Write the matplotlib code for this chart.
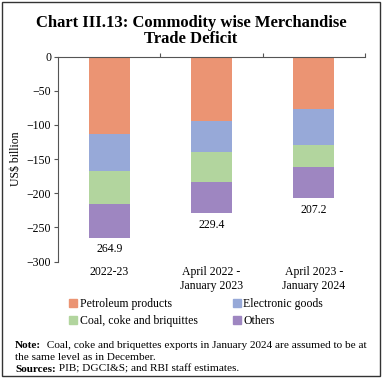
import matplotlib
matplotlib.use("Agg")
import matplotlib.pyplot as plt
from matplotlib.patches import Rectangle, Patch
import numpy as np

# data (US$ billion, deficits shown as negative)
categories = ["2022-23", "April 2022 -\nJanuary 2023", "April 2023 -\nJanuary 2024"]
petroleum = [112.8, 94.0, 76.6]
electronic = [54.4, 45.0, 52.6]
coal = [48.3, 44.0, 31.7]
others = [49.4, 46.4, 46.3]
totals = [264.9, 229.4, 207.2]
series_names = ["Petroleum products", "Electronic goods",
                "Coal, coke and briquittes", "Others"]
colors = ["#EB9473", "#97A9D8", "#B2D59E", "#9E86C1"]

plt.rcParams["font.family"] = ["Liberation Serif", "DejaVu Serif"]

W = H = 382
fig = plt.figure(figsize=(3.82, 3.82), dpi=100)
ax = fig.add_axes([0.152, 0.315, 0.803, 0.537])

x = np.arange(len(categories))
bottom = np.zeros(len(categories))
for vals, col, name in zip([petroleum, electronic, coal, others], colors, series_names):
    v = -np.array(vals)
    ax.bar(x, v, width=0.4, bottom=bottom, color=col, label=name, zorder=2)
    bottom = bottom + v

for xi, t in zip(x, totals):
    ax.text(xi, -t - 8, f"{t:.1f}", ha="center", va="top", fontsize=8.5)

# category labels below the plot
for xi, c in zip(x, categories):
    ax.text(xi, -306, c, ha="center", va="top", fontsize=8.5, linespacing=1.2)

ax.set_xlim(-0.5, 2.5)
ax.set_ylim(-300, 0)
ax.set_yticks(np.arange(-300, 1, 50))
ax.tick_params(axis="y", labelsize=8.5, length=3, color="#555555", pad=2)
ax.xaxis.tick_top()
ax.set_xticks([0.5, 1.5, 2.5])
ax.set_xticklabels([])
ax.tick_params(axis="x", length=3, color="#555555")
for s in ["bottom", "right"]:
    ax.spines[s].set_visible(False)
for s in ["top", "left"]:
    ax.spines[s].set_color("#555555")
    ax.spines[s].set_linewidth(0.8)
ax.set_ylabel("US$ billion", fontsize=8.5, labelpad=3)

# legend, row-wise order like the original
order = [0, 2, 1, 3]
handles = [Patch(color=colors[i], label=series_names[i]) for i in order]
fig.legend(handles=handles, loc="upper left", bbox_to_anchor=(0.168, 0.232),
           ncol=2, frameon=False, fontsize=8.5, handlelength=0.7, handleheight=0.7,
           handletextpad=0.2, columnspacing=3.0, labelspacing=0.45, borderaxespad=0)

fig.text(0.5, 0.962, "Chart III.13: Commodity wise Merchandise\nTrade Deficit",
         ha="center", va="top", fontsize=12, fontweight="bold", linespacing=1.0)

# notes: bold lead word followed by regular text
fs = 8.1
x0 = 15 / W
fig.canvas.draw()
r = fig.canvas.get_renderer()

t1 = fig.text(x0, 1 - 346 / H, "Note:", fontsize=fs, fontweight="bold", va="center")
w1 = t1.get_window_extent(r).width / W
fig.text(x0 + w1, 1 - 346 / H,
         "  Coal, coke and briquettes exports in January 2024 are assumed to be at",
         fontsize=fs, va="center")
fig.text(x0, 1 - 357.5 / H, "the same level as in December.", fontsize=fs, va="center")
t2 = fig.text(x0, 1 - 369 / H, "Sources:", fontsize=fs, fontweight="bold", va="center")
w2 = t2.get_window_extent(r).width / W
fig.text(x0 + w2, 1 - 369 / H, " PIB; DGCI&S; and RBI staff estimates.",
         fontsize=fs, va="center")

fig.add_artist(Rectangle((0.006, 0.016), 0.988, 0.978, transform=fig.transFigure,
                         fill=False, edgecolor="#333333", linewidth=1.0))

fig.savefig("out.png", dpi=100)
